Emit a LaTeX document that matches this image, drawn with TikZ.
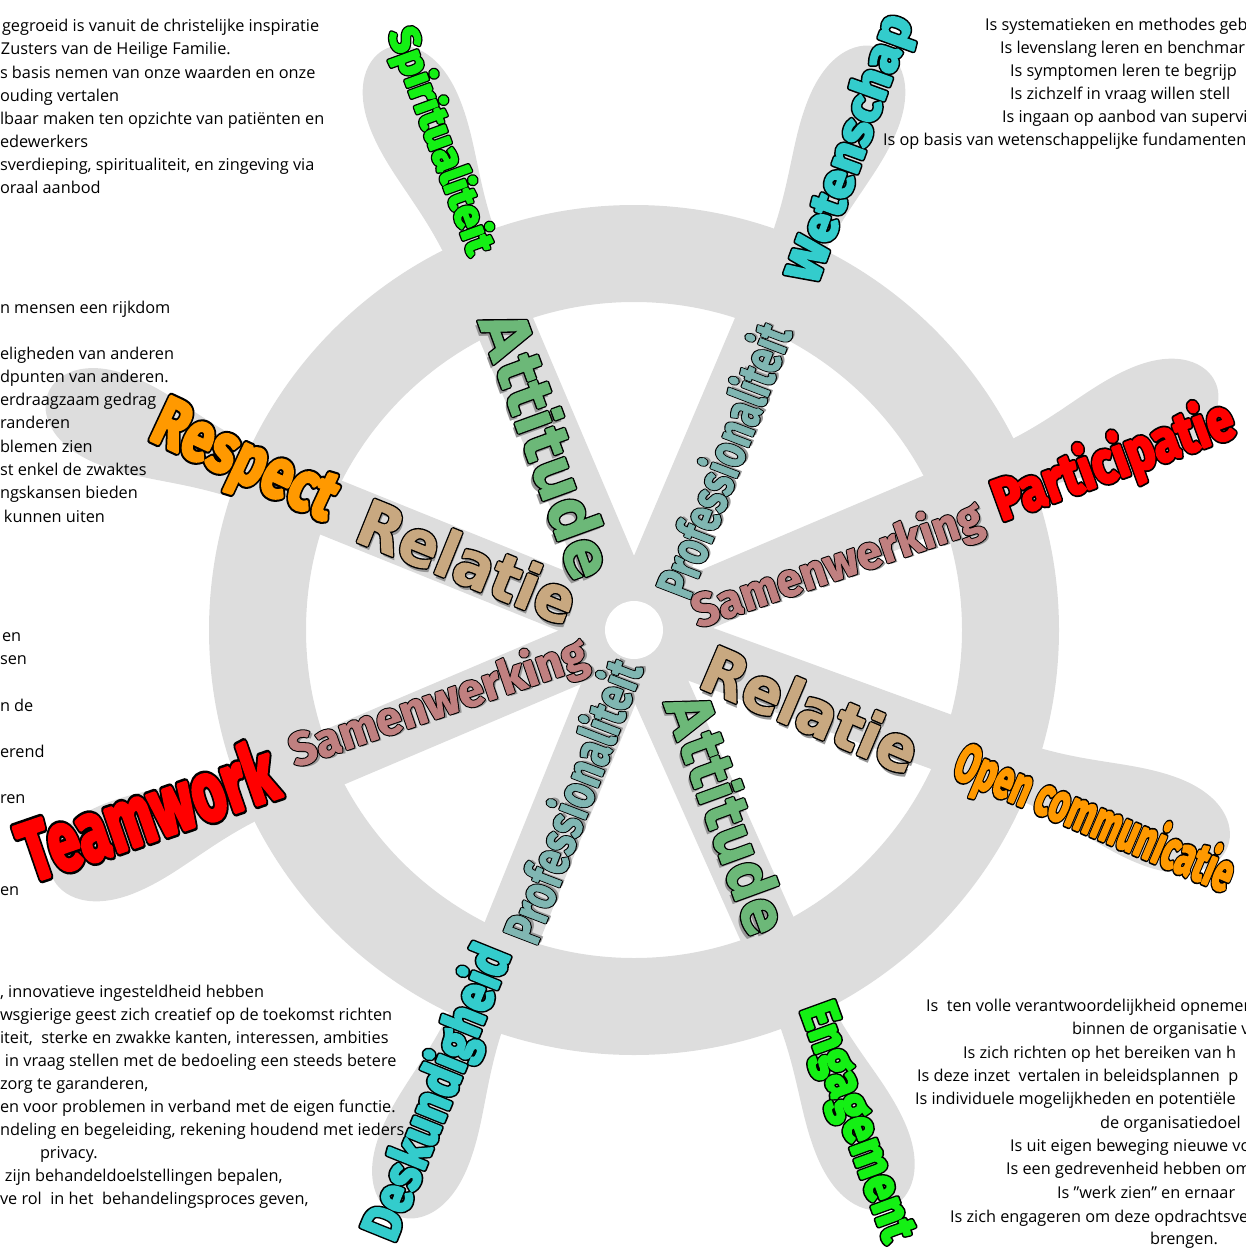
\documentclass[tikz,border=0pt]{standalone}
\usepackage{fontspec}
\usepackage{graphicx}
\setmainfont{Open Sans}
\newfontfamily\impfont{Fira Sans}
\newfontfamily\roundfont{DejaVu Sans}
\newfontfamily\condfont{Fira Sans}
\definecolor{wheelgray}{RGB}{221,221,221}
\definecolor{wgreen}{RGB}{20,240,20}
\definecolor{wcyan}{RGB}{51,204,204}
\definecolor{wred}{RGB}{255,0,0}
\definecolor{worange}{RGB}{255,153,0}
\definecolor{attgreen}{RGB}{108,184,120}
\definecolor{reltan}{RGB}{200,168,128}
\definecolor{samrose}{RGB}{192,128,128}
\definecolor{proteal}{RGB}{128,182,178}
\definecolor{shade}{RGB}{150,150,150}
% stroked glyphs: #1 colour, #2 stroke width, #3 text
\newcommand\strk[3]{{\color{#1}\special{pdf:literal direct #2 w 1 j 1 J 2 Tr}#3\special{pdf:literal direct 0 Tr 0 j 0 J}}}
% outlined text: black wide stroke below, coloured text above
% #1 fill, #2 outer width, #3 inner width, #4 text
\newcommand\outl[4]{\rlap{\strk{black}{#2}{#4}}\strk{#1}{#3}{#4}}
% #1 font, #2 length, #3 height, #4 fill, #5 text
\newcommand\wword[5]{\resizebox{#2pt}{#3pt}{#1\fontsize{40}{40}\selectfont\outl{#4}{4.4}{1.9}{#5}}}
\newcommand\swword[5]{\resizebox{#2pt}{#3pt}{#1\fontsize{40}{40}\selectfont\rlap{\color{shade}\kern2.4pt\raisebox{-2.4pt}{#5}}\outl{#4}{2.4}{0.6}{#5}}}
\tikzset{
  wordnode/.style={inner sep=0pt,outer sep=0pt},
  para/.style={anchor=base west,inner sep=0pt,outer sep=0pt,font=\fontsize{16.3}{19}\selectfont},
}
\begin{document}
\begin{tikzpicture}[x=1pt,y=-1pt]
\useasboundingbox (0,0) rectangle (1246,1250);
\begin{scope}
\clip (0,0) rectangle (1246,1250);
% ---------- wheel ----------
\begin{scope}[shift={(634,630)},yscale=-1]
  \draw[wheelgray,line width=97pt] (0,0) circle (376.5);
  \foreach \a in {112,66,20,-23,-67,-113,-158,157}{
    \begin{scope}[rotate=\a]
      \fill[wheelgray] (50,-29) rectangle (420,29);
      \fill[wheelgray] (400,-27) .. controls (470,-28) and (510,-47) .. (560,-47)
        .. controls (610,-47) and (632,-22) .. (632,0)
        .. controls (632,22) and (610,47) .. (560,47)
        .. controls (510,47) and (470,28) .. (400,27) -- cycle;
    \end{scope}
  }
  \fill[wheelgray] (0,0) circle (74);
  \fill[white] (0,0) circle (29);
\end{scope}
% ---------- inner words ----------
\node[wordnode,rotate=-70] (att1) at (546,445) {\swword{\roundfont\bfseries}{280}{48}{attgreen}{Attitude}};
\node[wordnode,rotate=-22] (rel1) at (467,563) {\swword{\roundfont\bfseries}{230}{48}{reltan}{Relatie}};
\node[wordnode,rotate=19] (sam1) at (838,567) {\swword{\condfont\bfseries}{304}{38}{samrose}{Samenwerking}};
\node[wordnode,rotate=69] (prof1) at (723,460) {\swword{\condfont\bfseries}{288}{42}{proteal}{Professionaliteit}};
\node[wordnode,rotate=19] (sam2) at (439,705) {\swword{\condfont\bfseries}{312}{38}{samrose}{Samenwerking}};
\node[wordnode,rotate=69] (prof2) at (572,801) {\swword{\condfont\bfseries}{298}{42}{proteal}{Professionaliteit}};
\node[wordnode,rotate=-23] (rel2) at (810,711) {\swword{\roundfont\bfseries}{229}{48}{reltan}{Relatie}};
\node[wordnode,rotate=-70] (att2) at (726,814) {\swword{\roundfont\bfseries}{252}{46}{attgreen}{Attitude}};
% ---------- outer words ----------
\node[wordnode,rotate=-70] (spirit) at (440,141) {\wword{\impfont\bfseries}{238}{33}{wgreen}{Spiritualiteit}};
\node[wordnode,rotate=70] (wetensch) at (852,149) {\wword{\impfont\bfseries}{281}{37}{wcyan}{Wetenschap}};
\node[wordnode,rotate=20] (partic) at (1114,462) {\wword{\impfont\bfseries}{252}{47}{wred}{Participatie}};
\node[wordnode,rotate=-23] (opencom) at (1094,820) {\wword{\impfont\bfseries}{298}{43}{worange}{Open communicatie}};
\node[wordnode,rotate=-70] (engage) at (854,1123) {\wword{\impfont\bfseries}{250}{35}{wgreen}{Engagement}};
\node[wordnode,rotate=68] (deskund) at (438,1093) {\wword{\impfont\bfseries}{312}{43}{wcyan}{Deskundigheid}};
\node[wordnode,rotate=19] (teamw) at (147,810) {\wword{\impfont\bfseries}{266}{63}{wred}{Teamwork}};
\node[wordnode,rotate=-25] (respect) at (243,465) {\wword{\impfont\bfseries}{196}{48}{worange}{Respect}};
% ---------- text top left ----------
\node[para] (tl1) at (2,31) {gegroeid is vanuit de christelijke inspiratie};
\node[para] (tl2) at (1,54) {Zusters van de Heilige Familie.};
\node[para] (tl3) at (0,78) {s basis nemen van onze waarden en onze};
\node[para] (tl4) at (0,101) {ouding vertalen};
\node[para] (tl5) at (0,124) {lbaar maken ten opzichte van patiënten en};
\node[para] (tl6) at (0,147) {edewerkers};
\node[para] (tl7) at (0,170) {sverdieping, spiritualiteit, en zingeving via};
\node[para] (tl8) at (0,193) {oraal aanbod};
% ---------- text left middle ----------
\node[para] (lm1) at (0,313) {n mensen een rijkdom};
\node[para] (lm2) at (0,359) {eligheden van anderen};
\node[para] (lm3) at (0,382) {dpunten van anderen.};
\node[para] (lm4) at (0,405) {erdraagzaam gedrag};
\node[para] (lm5) at (0,428) {randeren};
\node[para] (lm6) at (0,452) {blemen zien};
\node[para] (lm7) at (0,475) {st enkel de zwaktes};
\node[para] (lm8) at (0,498) {ngskansen bieden};
\node[para] (lm9) at (4,522) {kunnen uiten};
% ---------- text left lower ----------
\node[para] (ll1) at (2,641) {en};
\node[para] (ll2) at (0,664) {sen};
\node[para] (ll3) at (0,711) {n de};
\node[para] (ll4) at (0,757) {erend};
\node[para] (ll5) at (0,803) {ren};
\node[para] (ll6) at (0,895) {en};
% ---------- text bottom left ----------
\node[para] (bl1) at (0,997) {, innovatieve ingesteldheid hebben};
\node[para] (bl2) at (0,1020) {wsgierige geest zich creatief op de toekomst richten};
\node[para] (bl3) at (0,1043) {iteit,\ \ sterke en zwakke kanten, interessen, ambities};
\node[para] (bl4) at (5,1066) {in vraag stellen met de bedoeling een steeds betere};
\node[para] (bl5) at (0,1089) {zorg te garanderen,};
\node[para] (bl6) at (0,1112) {en voor problemen in verband met de eigen functie.};
\node[para] (bl7) at (0,1135) {ndeling en begeleiding, rekening houdend met ieders};
\node[para] (bl8) at (40,1158) {privacy.};
\node[para] (bl9) at (5,1181) {zijn behandeldoelstellingen bepalen,};
\node[para] (bl10) at (0,1204) {ve rol\ \ in het\ \ behandelingsproces geven,};
% ---------- text top right ----------
\node[para] (tr1) at (985,30) {Is systematieken en methodes geb};
\node[para] (tr2) at (1000,53) {Is levenslang leren en benchmar};
\node[para] (tr3) at (1010,76) {Is symptomen leren te begrijp};
\node[para] (tr4) at (1010,99) {Is zichzelf in vraag willen stell};
\node[para] (tr5) at (1002,122) {Is ingaan op aanbod van supervi};
\node[para] (tr6) at (883,145) {Is op basis van wetenschappelijke fundamenten};
% ---------- text bottom right ----------
\node[para] (br1) at (926,1011) {Is\ \ ten volle verantwoordelijkheid opnemen};
\node[para] (br2) at (1072,1034) {binnen de organisatie v};
\node[para] (br3) at (963,1058) {Is zich richten op het bereiken van h};
\node[para] (br4) at (917,1081) {Is deze inzet\ \ vertalen in beleidsplannen\ \ p};
\node[para] (br5) at (915,1104) {Is individuele mogelijkheden en potentiële};
\node[para] (br6) at (1100,1128) {de organisatiedoel};
\node[para] (br7) at (1010,1151) {Is uit eigen beweging nieuwe vo};
\node[para] (br8) at (1006,1174) {Is een gedrevenheid hebben om};
\node[para] (br9) at (1057,1198) {Is "werk zien" en ernaar};
\node[para] (br10) at (950,1222) {Is zich engageren om deze opdrachtsve};
\node[para] (br11) at (1150,1244) {brengen.};
\end{scope}
\end{tikzpicture}
\end{document}
